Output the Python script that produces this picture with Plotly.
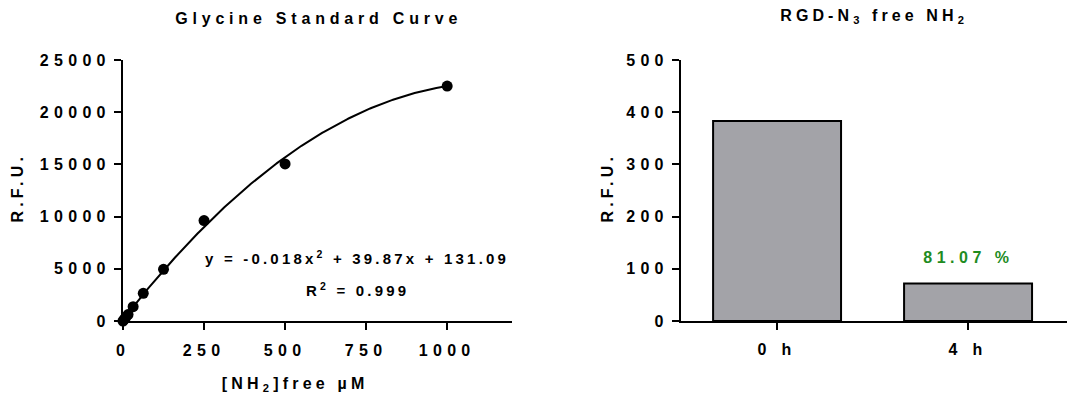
import numpy as np
import plotly.graph_objects as go

# ---- data: glycine standard curve ----
conc_um = [0, 3.9, 7.8, 15.6, 31.25, 62.5, 125, 250, 500, 1000]
rfu_std = [0, 150, 330, 620, 1370, 2650, 4950, 9620, 15050, 22500]
fit_coeffs = [-0.0175, 39.87, 131.09]          # quadratic fit shown on chart
x_ticks_std = [0, 250, 500, 750, 1000]
y_ticks_std = [0, 5000, 10000, 15000, 20000, 25000]

# ---- data: RGD-N3 free NH2 ----
bar_cats = ["0 h", "4 h"]
bar_vals = [383, 72]
y_ticks_bar = [0, 100, 200, 300, 400, 500]
pct_label = "81.07 %"

W, H = 1067, 400
FONT = "Liberation Sans, Arial, Helvetica, sans-serif"

x_fit = np.linspace(0, 1000, 300)
y_fit = np.polyval(fit_coeffs, x_fit)

fig = go.Figure()
fig.add_trace(go.Scatter(x=x_fit, y=y_fit, mode="lines",
                         line=dict(color="black", width=2),
                         xaxis="x", yaxis="y", hoverinfo="skip",
                         cliponaxis=False, showlegend=False))
fig.add_trace(go.Scatter(x=conc_um, y=rfu_std, mode="markers",
                         marker=dict(size=11, color="black"),
                         xaxis="x", yaxis="y", cliponaxis=False,
                         showlegend=False))
fig.add_trace(go.Bar(x=bar_cats, y=bar_vals, width=0.67,
                     marker=dict(color="#a3a3a8",
                                 line=dict(color="black", width=2)),
                     xaxis="x2", yaxis="y2", showlegend=False))

tickfont = dict(family=FONT, size=16, color="black", weight=700)
common = dict(showline=True, linewidth=2, linecolor="black",
              ticks="outside", ticklen=7, tickwidth=2, tickcolor="black",
              showgrid=False, zeroline=False, tickfont=tickfont,
              automargin=False)

ydom = [1 - 321 / H, 1 - 60 / H]
fig.update_layout(
    width=W, height=H, autosize=False,
    margin=dict(l=0, r=0, t=0, b=0, pad=0, autoexpand=False),
    paper_bgcolor="white", plot_bgcolor="white",
    xaxis=dict(domain=[123 / W, 512 / W], range=[0, 1200],
               tickvals=x_ticks_std, tickformat="d", anchor="y",
               ticklabelstandoff=7, **common),
    yaxis=dict(domain=ydom, range=[0, 25000], tickvals=y_ticks_std,
               tickformat="d", anchor="x", **common),
    xaxis2=dict(domain=[681 / W, 1.0], range=[-0.503, 1.518],
                type="category", anchor="y2",
                ticklabelstandoff=6, **common),
    yaxis2=dict(domain=ydom, range=[0, 500], tickvals=y_ticks_bar,
                tickformat="d", anchor="x2", **common),
)

def ann(text, x, y, size=16, angle=0, color="black", **kw):
    return dict(text=text, x=x / W, y=1 - y / H, xref="paper", yref="paper",
                showarrow=False, textangle=angle, xanchor="center",
                yanchor="middle",
                font=dict(family=FONT, size=size, color=color, weight=700),
                **kw)

annotations = [
    ann("Glycine Standard Curve", 318, 18, size=16),
    ann("RGD-N<sub>3</sub> free NH<sub>2</sub>", 874, 16, size=16),
    ann("y = -0.018x<sup>2</sup> + 39.87x + 131.09", 357, 257, size=15),
    ann("R<sup>2</sup> = 0.999", 357, 289, size=15),
    ann("[NH<sub>2</sub>]free µM", 295, 384, size=16),
    ann("R.F.U.", 17, 188, size=16, angle=-90),
    ann("R.F.U.", 607, 188, size=16, angle=-90),
    dict(text=pct_label, x=bar_cats[1], y=bar_vals[1] + 49,
         xref="x2", yref="y2", showarrow=False, xanchor="center",
         yanchor="middle",
         font=dict(family=FONT, size=16, color="#1f8c1f", weight=700)),
]
fig.update_layout(annotations=annotations)

css = (
    "html,body{margin:0;padding:0;overflow:hidden;}"
    ".main-svg text{letter-spacing:4.5px;}"
    ".main-svg g.xtick text, .main-svg g.ytick text,"
    ".main-svg g.x2tick text, .main-svg g.y2tick text{letter-spacing:5.3px;}"
    ".main-svg g.annotation[data-index='0'] text{letter-spacing:4.8px;}"
    ".main-svg g.annotation[data-index='1'] text{letter-spacing:4.1px;}"
    ".main-svg g.annotation[data-index='2'] text,"
    ".main-svg g.annotation[data-index='3'] text{letter-spacing:3.2px;}"
    ".main-svg g.annotation[data-index='4'] text{letter-spacing:4.2px;}"
    ".main-svg g.annotation[data-index='5'] text,"
    ".main-svg g.annotation[data-index='6'] text{letter-spacing:4.2px;}"
)
post = ("var s=document.createElement('style');s.textContent=\"" + css +
        "\";document.head.appendChild(s);")

fig.write_html("out.html", post_script=post,
               config={"displayModeBar": False})
